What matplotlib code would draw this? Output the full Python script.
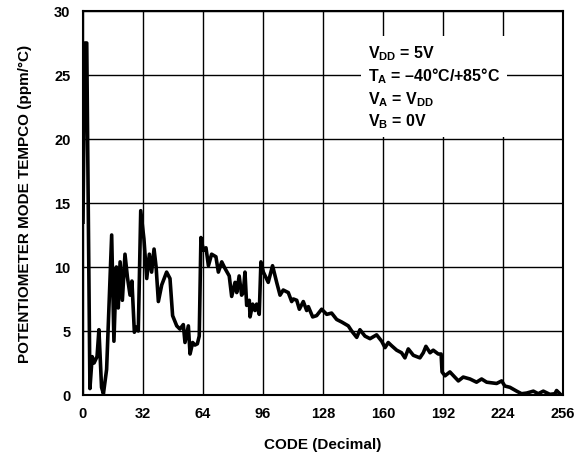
import matplotlib
matplotlib.use("Agg")
import matplotlib.pyplot as plt

# tempco vs code
codes = [0, 1, 2, 3.7, 4.9, 5.9, 7.5, 8.5, 9.9, 10.9,
         12.6, 15.3, 16.5, 17.8, 18.8, 19.8, 21.0, 22.4, 23.7, 25.1,
         26.1, 27.4, 28.3, 29.5, 30.8, 32.5, 34.0, 35.4, 36.6, 37.9,
         39.0, 40.2, 42.0, 44.6, 46.4, 47.8, 50.0, 51.7, 53.5, 54.4,
         56.2, 57.1, 58.5, 59.7, 61.0, 62.0, 62.9, 64.2, 65.6, 66.9,
         68.6, 70.9, 72.2, 74.0, 75.7, 78.0, 79.3, 81.1, 82.0, 83.3,
         84.6, 85.5, 86.4, 87.3, 88.7, 89.1, 90.5, 91.7, 92.6, 94.0,
         94.9, 96.2, 98.8, 101.1, 103.3, 105.1, 106.8, 109.5, 111.3, 112.2,
         114.0, 115.4, 117.5, 119.3, 120.2, 122.5, 124.6, 127.3, 130.0, 132.6,
         135.3, 138.0, 141.5, 143.3, 146.0, 147.7, 150.4, 153.1, 156.6, 159.3,
         161.1, 162.8, 164.6, 167.3, 169.9, 171.7, 173.5, 176.2, 179.7, 181.5,
         182.9, 185.1, 186.8, 189.5, 191.0, 191.5, 193.1, 195.7, 200.2, 202.8,
         206.4, 209.9, 212.6, 215.3, 220.6, 223.3, 225.0, 227.7, 231.3, 233.9,
         236.6, 240.2, 242.8, 245.5, 249.0, 251.7, 252.6, 255.0]
tempco = [13.5, 27.5, 27.5, 0.5, 3.0, 2.5, 3.0, 5.1, 0.6, 0.1,
          2.0, 12.5, 4.2, 10.0, 6.8, 10.4, 7.4, 11.0, 9.2, 7.8,
          8.9, 4.9, 5.3, 5.0, 14.4, 12.2, 9.1, 11.0, 9.6, 11.4,
          10.0, 7.3, 8.6, 9.6, 9.1, 6.2, 5.4, 5.15, 5.5, 4.1,
          5.4, 3.2, 4.1, 3.9, 4.0, 4.6, 12.3, 11.3, 11.5, 10.1,
          11.0, 10.8, 9.6, 10.4, 9.9, 9.3, 7.7, 8.8, 8.0, 9.3,
          7.8, 8.0, 9.6, 7.0, 7.4, 6.1, 7.1, 6.6, 7.1, 6.3,
          10.4, 9.6, 8.8, 10.1, 8.8, 7.8, 8.2, 8.0, 7.3, 7.5,
          7.4, 6.7, 7.3, 6.6, 6.9, 6.1, 6.2, 6.7, 6.3, 6.4,
          5.9, 5.7, 5.4, 5.0, 4.5, 5.1, 4.6, 4.4, 4.7, 4.2,
          3.7, 4.1, 3.85, 3.5, 3.3, 2.9, 3.6, 3.1, 2.9, 3.3,
          3.8, 3.3, 3.5, 3.2, 3.2, 1.8, 1.5, 1.8, 1.1, 1.4,
          1.25, 1.0, 1.25, 1.0, 0.9, 1.1, 0.7, 0.6, 0.3, 0.1,
          0.15, 0.3, 0.1, 0.3, 0.05, 0.1, 0.35, 0.0]

x_ticks = [0, 32, 64, 96, 128, 160, 192, 224, 256]
y_ticks = [0, 5, 10, 15, 20, 25, 30]

conditions = ["$V_{DD}$ = 5V",
              "$T_A$ = \u201340\u00b0C/+85\u00b0C",
              "$V_A$ = $V_{DD}$",
              "$V_B$ = 0V"]

plt.rcParams["font.family"] = ["Liberation Sans", "DejaVu Sans"]
plt.rcParams["font.weight"] = "bold"
plt.rcParams["mathtext.fontset"] = "custom"
plt.rcParams["mathtext.rm"] = "Liberation Sans:bold"
plt.rcParams["mathtext.it"] = "Liberation Sans:bold"
plt.rcParams["mathtext.bf"] = "Liberation Sans:bold"

fig = plt.figure(figsize=(5.84, 4.56), dpi=100)
ax = fig.add_axes([0.1421, 0.1316, 0.8219, 0.8421])

ax.plot(codes, tempco, color="black", linewidth=2.6)

ax.set_xlim(0, 256)
ax.set_ylim(0, 30)
ax.set_xticks(x_ticks)
ax.set_yticks(y_ticks)
ax.tick_params(length=0, labelsize=10.5)
ax.tick_params(axis="x", pad=8)
ax.tick_params(axis="y", pad=9)
for lab in ax.get_xticklabels() + ax.get_yticklabels():
    lab.set_fontweight("bold")
ax.grid(True, color="black", linewidth=1.0)
for s in ax.spines.values():
    s.set_linewidth(1.5)

ax.set_xlabel("CODE (Decimal)", fontsize=11, fontweight="bold", labelpad=12)
ax.set_ylabel("POTENTIOMETER MODE TEMPCO (ppm/\u00b0C)", fontsize=11,
              fontweight="bold", labelpad=16)

ax.text(152, 27.5, "\n".join(conditions), fontsize=11.5, fontweight="bold",
        va="top", ha="left", linespacing=1.27, zorder=5,
        bbox=dict(facecolor="white", edgecolor="none", pad=5))

fig.savefig("out.png", dpi=100)
